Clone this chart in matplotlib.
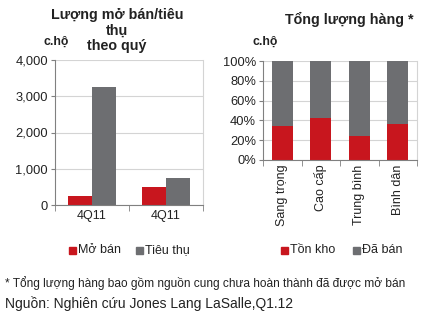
import matplotlib
matplotlib.use("Agg")
import matplotlib.pyplot as plt
import numpy as np
from matplotlib.patches import Rectangle

plt.rcParams['font.family'] = ['Liberation Sans', 'DejaVu Sans']

# Left chart data
quarters = ["4Q11", "4Q11"]
mo_ban = [250, 490]
tieu_thu = [3250, 740]
left_yticks = [0, 1000, 2000, 3000, 4000]

# Right chart data
segments = ["Sang trọng", "Cao cấp", "Trung bình", "Bình dân"]
ton_kho = [34, 42, 24, 36]
da_ban = [66, 58, 76, 64]
right_yticks = [0, 20, 40, 60, 80, 100]

RED = "#C8161E"
GREY = "#6D6E71"
GRID = "#D4D4D4"
AXC = "#808080"
TXT = "#222222"

fig = plt.figure(figsize=(4.34, 3.18), dpi=100)
W, H = 434, 318

def style(ax):
    ax.spines["top"].set_visible(False)
    ax.spines["right"].set_color(GRID)
    ax.spines["left"].set_color(AXC)
    ax.spines["bottom"].set_color(AXC)
    ax.yaxis.grid(True, color=GRID, linewidth=0.8)
    ax.set_axisbelow(True)
    ax.tick_params(axis="y", length=3, color=AXC, labelsize=9.3, pad=2, labelcolor=TXT)
    ax.tick_params(axis="x", length=0, labelsize=9, labelcolor=TXT)

# Left axes
ax1 = fig.add_axes([55/W, 1-205/H, (203-55)/W, (205-60)/H])
x = np.arange(len(quarters))
bw = 0.33
ax1.bar(x - bw/2, mo_ban, width=bw, color=RED)
ax1.bar(x + bw/2, tieu_thu, width=bw, color=GREY)
ax1.set_xlim(-0.5, len(quarters) - 0.5)
ax1.set_ylim(0, 4000)
ax1.set_yticks(left_yticks)
ax1.set_yticklabels([f"{v:,}" for v in left_yticks])
ax1.set_xticks(x)
ax1.set_xticklabels(quarters)
style(ax1)
ax1.set_xticks(np.arange(-0.5, len(quarters)), minor=True)
ax1.tick_params(axis="x", which="minor", length=4, color=AXC)

# Right axes
ax2 = fig.add_axes([263/W, 1-160/H, (417-263)/W, (160-61)/H])
x2 = np.arange(len(segments))
bw2 = 0.55
ax2.bar(x2, ton_kho, width=bw2, color=RED)
ax2.bar(x2, da_ban, width=bw2, bottom=ton_kho, color=GREY)
ax2.set_xlim(-0.5, len(segments) - 0.5)
ax2.set_ylim(0, 100)
ax2.set_yticks(right_yticks)
ax2.set_yticklabels([f"{v}%" for v in right_yticks])
ax2.set_xticks(x2)
ax2.set_xticklabels(segments, rotation=90)
style(ax2)
ax2.set_xticks(np.arange(-0.5, len(segments)), minor=True)
ax2.tick_params(axis="x", which="minor", length=4, color=AXC)

# Titles
for i, line in enumerate(["Lượng mở bán/tiêu", "thụ", "theo quý"]):
    fig.text(117/W, 1-(15 + 15.5*i)/H, line, ha="center", va="center",
             fontsize=10.3, fontweight="bold", color=TXT)
fig.text(43/W, 1-42/H, "c.hộ", ha="left", va="center", fontsize=8.8, fontweight="bold", color=TXT)
fig.text(349/W, 1-19/H, "Tổng lượng hàng *", ha="center", va="center",
         fontsize=10.3, fontweight="bold", color=TXT)
fig.text(252/W, 1-42/H, "c.hộ", ha="left", va="center", fontsize=8.8, fontweight="bold", color=TXT)

# Legends
def legend_item(xpx, ypx, color, label):
    fig.patches.append(Rectangle((xpx/W, 1-(ypx+4)/H), 7/W, 7/H, transform=fig.transFigure,
                                 color=color, figure=fig))
    fig.text((xpx+9)/W, 1-ypx/H, label, ha="left", va="center", fontsize=9, color=TXT)

legend_item(69, 250, RED, "Mở bán")
legend_item(136, 250, GREY, "Tiêu thụ")
legend_item(281, 250, RED, "Tồn kho")
legend_item(353, 250, GREY, "Đã bán")

# Footnotes
fig.text(5/W, 1-283/H, "* Tổng lượng hàng bao gồm nguồn cung chưa hoàn thành đã được mở bán",
         ha="left", va="center", fontsize=8.6, color=TXT)
fig.text(5/W, 1-304/H, "Nguồn: Nghiên cứu Jones Lang LaSalle,Q1.12",
         ha="left", va="center", fontsize=10, color=TXT)

fig.savefig("out.png", dpi=100)
